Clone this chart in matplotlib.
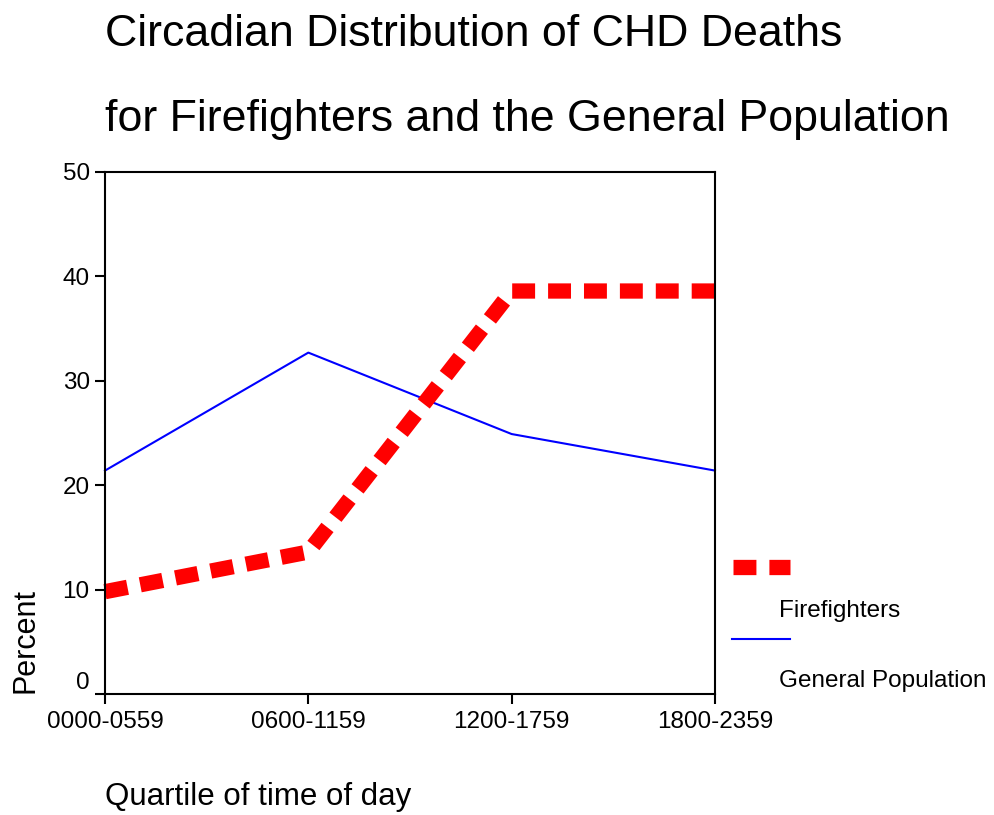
import matplotlib
matplotlib.use("Agg")
import matplotlib.pyplot as plt
from matplotlib.lines import Line2D

plt.rcParams['font.family'] = ['Liberation Sans', 'DejaVu Sans']

# data
quartiles = ["0000-0559", "0600-1159", "1200-1759", "1800-2359"]
firefighters = [9.8, 13.6, 38.6, 38.6]
general_pop = [21.4, 32.7, 24.9, 21.4]
yticks = [0, 10, 20, 30, 40, 50]

W, H = 995, 815
fig = plt.figure(figsize=(W / 100, H / 100), dpi=100)
ax = fig.add_axes([105 / W, (H - 694) / H, 610 / W, 522 / H])

x = range(len(quartiles))
ax.plot(x, general_pop, color='#0000ff', lw=1.5, clip_on=False)
ax.plot(x, firefighters, color='#ff0000', lw=11, dashes=(1.5, 0.85),
        dash_capstyle='butt', solid_capstyle='butt', clip_on=False)

ax.set_xlim(0, 3)
ax.set_ylim(0, 50)
ax.set_xticks(list(x))
ax.set_xticklabels(quartiles, fontsize=17.5)
ax.set_yticks(yticks)
ax.set_yticklabels([str(v) for v in yticks], fontsize=17.5)
ax.tick_params(direction='out', length=7, width=1.5, pad=4)
ax.tick_params(axis='x', pad=5)
for s in ax.spines.values():
    s.set_linewidth(1.5)

# the "0" label sits above its tick in the original
lab0 = ax.get_yticklabels()[0]
lab0.set_va('bottom')

# titles and axis labels
fig.text(105 / W, 1 - 34 / H, "Circadian Distribution of CHD Deaths",
         fontsize=32.2, ha='left', va='center')
fig.text(105 / W, 1 - 120 / H, "for Firefighters and the General Population",
         fontsize=32.2, ha='left', va='center')
fig.text(105 / W, 1 - 797 / H, "Quartile of time of day",
         fontsize=22.5, ha='left', va='center')
fig.text(25 / W, 1 - 693 / H, "Percent", fontsize=22, rotation=90,
         ha='center', va='bottom')

# legend laid out like the original: handle above its label
fig.add_artist(Line2D([733 / W, 790 / W], [1 - 567 / H] * 2, color='#ff0000',
                      lw=11, dashes=(1.5, 0.85), dash_capstyle='butt'))
fig.text(779 / W, 1 - 611 / H, "Firefighters", fontsize=17.5, va='center')
fig.add_artist(Line2D([732 / W, 790 / W], [1 - 639 / H] * 2, color='#0000ff',
                      lw=1.5))
fig.text(779 / W, 1 - 681 / H, "General Population", fontsize=17.5, va='center')

fig.savefig("out.png", dpi=100)
